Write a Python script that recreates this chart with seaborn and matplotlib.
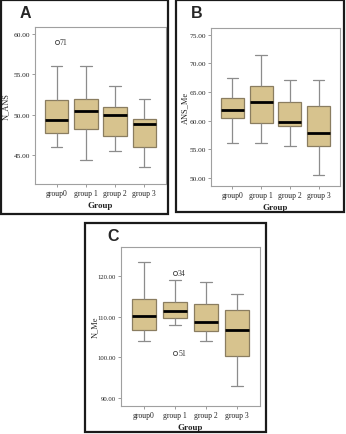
import numpy as np
import pandas as pd
import matplotlib
matplotlib.use("Agg")
import matplotlib.pyplot as plt
import seaborn as sns
from matplotlib.patches import Rectangle

sns.set_style("white")
plt.rcParams["font.family"] = ["Liberation Serif", "DejaVu Serif"]

groups = ["group0", "group 1", "group 2", "group 3"]

# Panel A : N_ANS
a_low = [46.0, 44.4, 45.5, 43.5]
a_q1 = [47.7, 48.2, 47.4, 46.0]
a_med = [49.3, 50.5, 50.0, 48.9]
a_q3 = [51.8, 52.0, 51.0, 49.5]
a_high = [56.0, 56.0, 53.5, 52.0]
a_out = [[(59.0, "71")], [], [], []]
a_ticks = [45, 50, 55, 60]

# Panel B : ANS_Me
b_low = [56.0, 56.0, 55.5, 50.5]
b_q1 = [60.5, 59.5, 59.0, 55.5]
b_med = [61.8, 63.3, 59.8, 57.8]
b_q3 = [64.0, 66.0, 63.3, 62.5]
b_high = [67.5, 71.5, 67.0, 67.0]
b_out = [[], [], [], []]
b_ticks = [50, 55, 60, 65, 70, 75]

# Panel C : N_Me
c_low = [104.0, 108.0, 104.0, 93.0]
c_q1 = [106.7, 109.6, 106.5, 100.2]
c_med = [110.2, 111.5, 108.7, 106.7]
c_q3 = [114.3, 113.5, 113.0, 111.7]
c_high = [123.5, 119.0, 118.5, 115.5]
c_out = [[], [(120.8, "34"), (101.0, "51")], [], []]
c_ticks = [90, 100, 110, 120]

W, H = 346, 435
fig = plt.figure(figsize=(W / 100, H / 100), dpi=100)

BOX = "#D7C38E"
EDGE = "#8a7d60"
GRAY = "#8c8c8c"


def build(lo, q1, med, q3, hi, outs):
    rows = []
    for i, g in enumerate(groups):
        vals = [lo[i], q1[i], q1[i], med[i], med[i], q3[i], q3[i], hi[i]]
        vals += [v for v, _ in outs[i]]
        rows += [(g, v) for v in vals]
    return pd.DataFrame(rows, columns=["Group", "value"])


def add_axes(px):
    l, r, t, b = px
    return fig.add_axes([l / W, 1 - b / H, (r - l) / W, (b - t) / H])


def panel(px, border, letter, letter_pos, stats, outs, ylim, ticks, ylabel,
          ylab_x, tfs):
    l, r, t, b = border
    fig.patches.append(Rectangle((l / W, 1 - b / H), (r - l) / W, (b - t) / H,
                                 transform=fig.transFigure, fill=False,
                                 edgecolor="#1a1a1a", linewidth=1.6))
    fig.text(letter_pos[0] / W, 1 - letter_pos[1] / H, letter,
             family=["Liberation Sans", "DejaVu Sans"], fontweight="bold",
             fontsize=11.5, ha="left", va="center")
    ax = add_axes(px)
    df = build(*stats, outs)
    sns.boxplot(data=df, x="Group", y="value", order=groups, ax=ax,
                color=BOX, saturation=1, width=0.8, linewidth=0.9,
                boxprops=dict(edgecolor=EDGE, linewidth=0.9),
                whiskerprops=dict(color=GRAY, linewidth=0.9),
                capprops=dict(color=GRAY, linewidth=0.9),
                medianprops=dict(color="black", linewidth=2.0),
                flierprops=dict(marker="o", markersize=3, markerfacecolor="none",
                                markeredgecolor="#444444", markeredgewidth=0.6))
    for i, lst in enumerate(outs):
        for v, lab in lst:
            ax.text(i + 0.1, v, lab, fontsize=5.6, va="center", ha="left", color="#333333")
    ax.set_ylim(*ylim)
    ax.set_xlim(-0.74, 3.74)
    ax.set_yticks(ticks)
    ax.set_yticklabels([f"{v:.2f}" for v in ticks])
    ax.set_xlabel("Group", fontsize=6.5, fontweight="bold", labelpad=3)
    ax.set_ylabel(ylabel, fontsize=6.0)
    pl, pr = px[0], px[1]
    ax.yaxis.set_label_coords((ylab_x - pl) / (pr - pl), 0.5)
    ax.tick_params(axis="y", labelsize=tfs)
    ax.tick_params(axis="x", labelsize=5.5)
    ax.tick_params(axis="both", length=2.5, width=0.6, color=GRAY,
                   pad=1.2, left=True, bottom=True, labelcolor="#222222")
    for s in ax.spines.values():
        s.set_color("#a0a0a0")
        s.set_linewidth(0.8)
    return ax


panel((35, 166, 28, 185), (1, 168, 1, 215), "A", (20, 13),
      (a_low, a_q1, a_med, a_q3, a_high), a_out, (41.4, 60.87), a_ticks, "N_ANS",
      10, 5.3)
panel((211, 340, 29, 187), (176, 344, 1, 213), "B", (191, 14),
      (b_low, b_q1, b_med, b_q3, b_high), b_out, (48.55, 76.17), b_ticks, "ANS_Me",
      189, 5.3)
panel((121, 260, 248, 407), (85, 266, 224, 433), "C", (107, 237),
      (c_low, c_q1, c_med, c_q3, c_high), c_out, (88.0, 127.15), c_ticks, "N_Me",
      99, 4.8)

fig.savefig("out.png", dpi=100)
